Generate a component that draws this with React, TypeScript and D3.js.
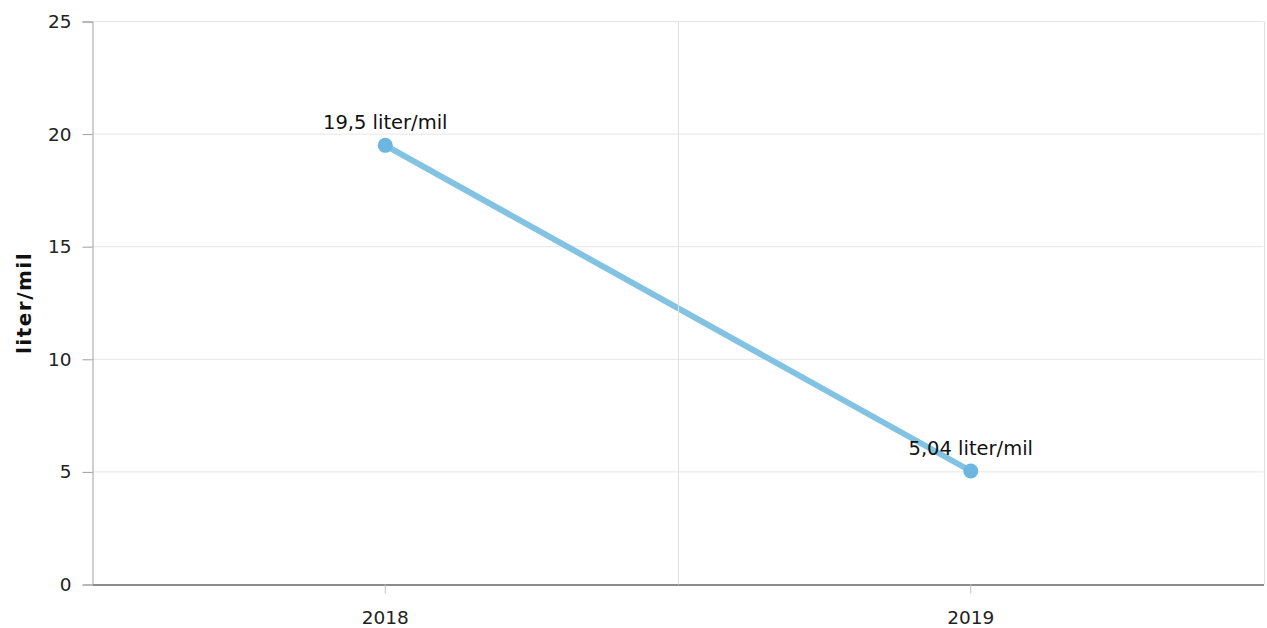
import * as d3 from "d3";
import { useEffect, useRef } from "react";

const years = ["2018", "2019"];
const values = [19.5, 5.04];
const valueLabels = ["19,5 liter/mil", "5,04 liter/mil"];
const yTicks = [0, 5, 10, 15, 20, 25];

const WIDTH = 1267;
const HEIGHT = 628;
const FONT = "'DejaVu Sans', Verdana, sans-serif";

export default function App() {
  const ref = useRef<SVGSVGElement>(null);

  useEffect(() => {
    if (!ref.current) return;
    const svg = d3.select(ref.current);
    svg.selectAll("*").remove();

    const left = 92.5;
    const right = 1263.5;
    const top = 21.5;
    const bottom = 584.5;

    const x = d3.scaleBand<string>().domain(years).range([left, right]).padding(0);
    const y = d3.scaleLinear().domain([0, 25]).range([bottom, top]);

    // horizontal grid
    svg
      .append("g")
      .selectAll("line")
      .data(yTicks)
      .enter()
      .append("line")
      .attr("x1", left)
      .attr("x2", right)
      .attr("y1", (d) => y(d))
      .attr("y2", (d) => y(d))
      .attr("stroke", "#e6e6e6")
      .attr("stroke-width", 1);

    // y axis
    const yAxis = svg
      .append("g")
      .attr("transform", `translate(${left},0)`)
      .call(d3.axisLeft(y).tickValues(yTicks).tickSize(10).tickPadding(11));
    yAxis.select(".domain").attr("stroke", "#a0a0a0");
    yAxis.selectAll(".tick line").attr("stroke", "#a0a0a0");
    yAxis
      .selectAll(".tick text")
      .attr("font-family", FONT)
      .attr("font-size", 18.5)
      .attr("fill", "#222");

    // x axis
    const xAxis = svg
      .append("g")
      .attr("transform", `translate(0,${bottom})`)
      .call(d3.axisBottom(x).tickSize(9).tickSizeOuter(0).tickPadding(17));
    xAxis.select(".domain").attr("stroke", "#8c8c8c").attr("stroke-width", 2);
    xAxis.selectAll(".tick line").attr("stroke", "#c0c0c0");
    xAxis
      .selectAll(".tick text")
      .attr("font-family", FONT)
      .attr("font-size", 18.5)
      .attr("fill", "#222");

    // y axis title
    svg
      .append("text")
      .attr("transform", `translate(31,${(top + bottom) / 2}) rotate(-90)`)
      .attr("text-anchor", "middle")
      .attr("font-family", FONT)
      .attr("font-size", 20)
      .attr("font-weight", "bold")
      .attr("letter-spacing", 1.5)
      .attr("fill", "#111")
      .text("liter/mil");

    const cx = (i: number) => x(years[i])! + x.bandwidth() / 2;

    // line
    const line = d3
      .line<number>()
      .x((_, i) => cx(i))
      .y((d) => y(d));
    svg
      .append("path")
      .datum(values)
      .attr("d", line)
      .attr("fill", "none")
      .attr("stroke", "#82c3e4")
      .attr("stroke-width", 6)
      .attr("stroke-linecap", "round");

    // vertical grid at band boundaries
    const bounds = years.map((d) => x(d)!).concat([right]);
    svg
      .append("g")
      .selectAll("line")
      .data(bounds.slice(1))
      .enter()
      .append("line")
      .attr("x1", (d) => Math.round(d) + 0.5)
      .attr("x2", (d) => Math.round(d) + 0.5)
      .attr("y1", top)
      .attr("y2", bottom)
      .attr("stroke", "#e0e0e0")
      .attr("stroke-width", 1);

    // markers
    svg
      .append("g")
      .selectAll("circle")
      .data(values)
      .enter()
      .append("circle")
      .attr("cx", (_, i) => cx(i))
      .attr("cy", (d) => y(d))
      .attr("r", 7.5)
      .attr("fill", "#6cb6df");

    // value labels
    svg
      .append("g")
      .selectAll("text")
      .data(values)
      .enter()
      .append("text")
      .attr("x", (_, i) => cx(i))
      .attr("y", (d) => y(d) - 16)
      .attr("text-anchor", "middle")
      .attr("font-family", FONT)
      .attr("font-size", 19.5)
      .attr("fill", "#111")
      .text((_, i) => valueLabels[i]);
  }, []);

  return (
    <svg
      ref={ref}
      width={WIDTH}
      height={HEIGHT}
      style={{ position: "absolute", left: 0, top: 0, background: "#fff" }}
    />
  );
}
